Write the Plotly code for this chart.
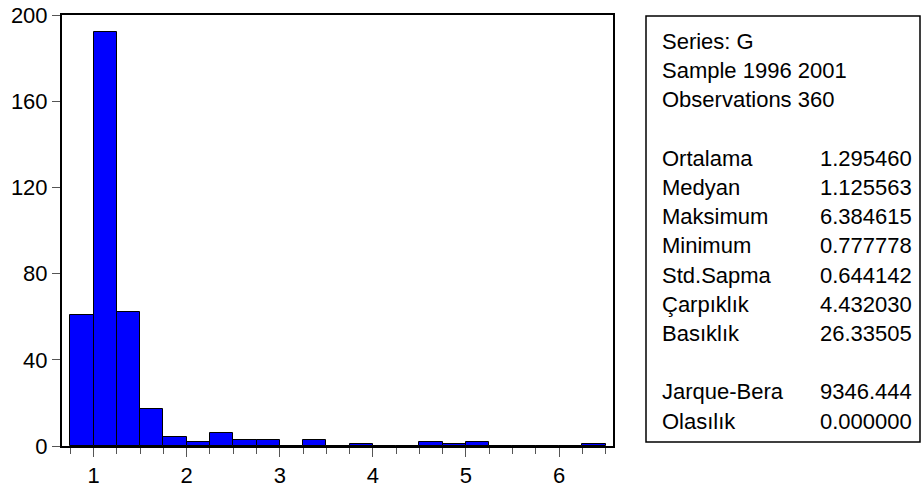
import plotly.graph_objects as go

# ---- data ----
bin_starts = [0.75, 1.00, 1.25, 1.50, 1.75, 2.00, 2.25, 2.50, 2.75, 3.00, 3.25, 3.50,
              3.75, 4.00, 4.25, 4.50, 4.75, 5.00, 5.25, 5.50, 5.75, 6.00, 6.25]
counts = [61, 192, 62, 17, 4, 2, 6, 3, 3, 0, 3, 0,
          1, 0, 0, 2, 1, 2, 0, 0, 0, 0, 1]
bin_width = 0.25

y_ticks = [0, 40, 80, 120, 160, 200]
x_ticks = [1, 2, 3, 4, 5, 6]

header_lines = ["Series: G", "Sample 1996 2001", "Observations 360"]
stat_names = ["Ortalama", "Medyan", "Maksimum", "Minimum", "Std.Sapma",
              "Çarpıklık", "Basıklık"]
stat_values = ["1.295460", "1.125563", "6.384615", "0.777778", "0.644142",
               "4.432030", "26.33505"]
test_names = ["Jarque-Bera", "Olasılık"]
test_values = ["9346.444", "0.000000"]

# ---- layout geometry (pixels) ----
W, H = 921, 492
ML, MR, MT, MB = 62, 308, 15, 46
PW = W - ML - MR
PH = H - MT - MB
FONT = "Liberation Sans, Arial, sans-serif"
FS = 22


def px_x(x):
    return (x - ML) / PW


def px_y(y):
    return (H - MB - y) / PH


centers = [s + bin_width / 2 for s in bin_starts]

fig = go.Figure()
fig.add_trace(go.Bar(
    x=centers, y=counts, width=bin_width,
    marker=dict(color="#0000FF", line=dict(color="black", width=1)),
    hoverinfo="x+y",
))

fig.update_layout(
    template="none",
    width=W, height=H,
    margin=dict(l=ML, r=MR, t=MT, b=MB, pad=0, autoexpand=False),
    paper_bgcolor="white", plot_bgcolor="white",
    showlegend=False,
    font=dict(family=FONT, size=FS, color="black"),
    bargap=0,
)

fig.update_xaxes(
    automargin=False, ticklabeloverflow="allow",
    range=[0.66, 6.58], tickvals=x_ticks, ticktext=[str(t) for t in x_ticks],
    ticks="outside", ticklen=9, tickcolor="#555555", tickwidth=1,
    minor=dict(dtick=0.25, tick0=0, ticks="outside", ticklen=6,
               tickcolor="#555555", tickwidth=1, showgrid=False),
    showline=True, linecolor="black", linewidth=2, mirror=True,
    showgrid=False, zeroline=False,
    tickfont=dict(family=FONT, size=FS, color="black"),
)
fig.update_yaxes(
    automargin=False, ticklabeloverflow="allow",
    range=[0, 200], tickvals=y_ticks, ticktext=[str(t) for t in y_ticks],
    ticks="outside", ticklen=8, tickcolor="#555555", tickwidth=1,
    showline=True, linecolor="black", linewidth=2, mirror=True,
    showgrid=False, zeroline=False,
    tickfont=dict(family=FONT, size=FS, color="black"),
)

# stats box
fig.add_shape(type="rect", xref="paper", yref="paper",
              x0=px_x(646), x1=px_x(920), y0=px_y(442), y1=px_y(16),
              line=dict(color="black", width=1.5), fillcolor="white", layer="below")

LINE = 29.2
Y0 = 41.5
LX = 660
VX = 818

rows = []
for i, t in enumerate(header_lines):
    rows.append((i, t, None))
for j, (n, v) in enumerate(zip(stat_names, stat_values)):
    rows.append((4 + j, n, v))
for j, (n, v) in enumerate(zip(test_names, test_values)):
    rows.append((12 + j, n, v))

for idx, name, val in rows:
    yy = Y0 + idx * LINE
    fig.add_annotation(xref="paper", yref="paper", x=px_x(LX), y=px_y(yy),
                       text=name, showarrow=False, xanchor="left", yanchor="middle",
                       font=dict(family=FONT, size=FS, color="black"))
    if val is not None:
        fig.add_annotation(xref="paper", yref="paper", x=px_x(VX), y=px_y(yy),
                           text=val, showarrow=False, xanchor="left", yanchor="middle",
                           font=dict(family=FONT, size=FS, color="black"))

fig.write_html("out.html",
               config={"displayModeBar": False},
               post_script="document.body.style.margin='0';document.body.style.overflow='hidden';")
